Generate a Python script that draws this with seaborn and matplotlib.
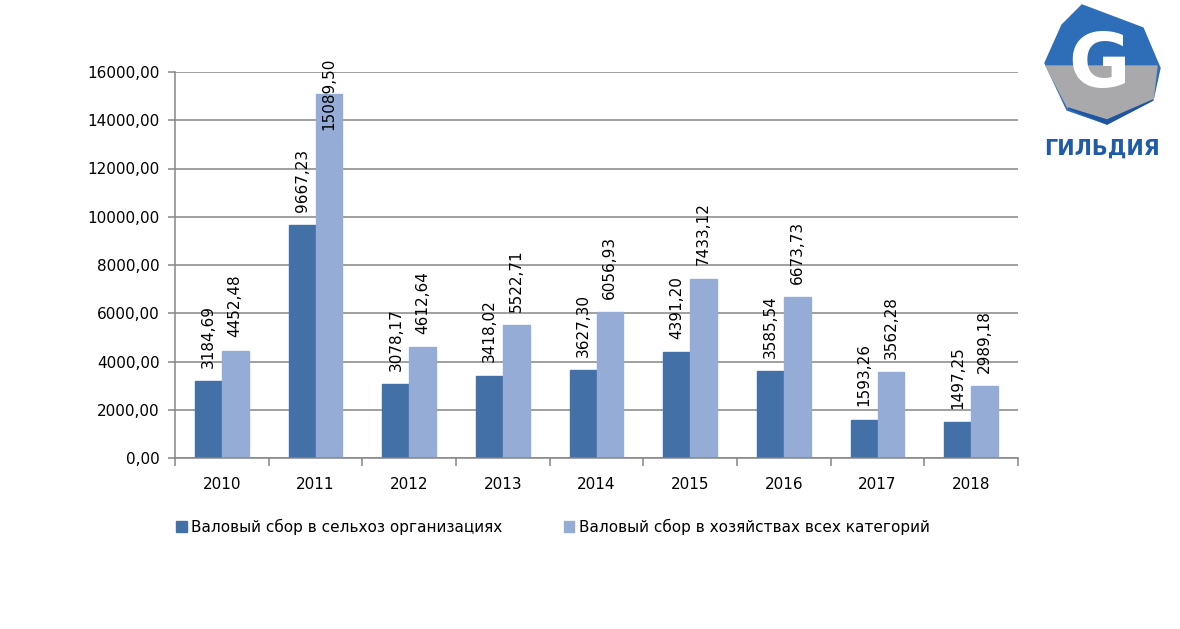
# Bar chart: gross harvest by year, two categories of farms
import pandas as pd
import matplotlib.pyplot as plt
import seaborn as sns
from matplotlib.patches import Polygon

# Data
years = ['2010', '2011', '2012', '2013', '2014', '2015', '2016', '2017', '2018']
agri_orgs = [3184.69, 9667.23, 3078.17, 3418.02, 3627.30, 4391.20, 3585.54, 1593.26, 1497.25]
all_farms = [4452.48, 15089.50, 4612.64, 5522.71, 6056.93, 7433.12, 6673.73, 3562.28, 2989.18]
series_names = ['Валовый сбор в сельхоз организациях',
                'Валовый сбор в хозяйствах всех категорий']
y_ticks = [0, 2000, 4000, 6000, 8000, 10000, 12000, 14000, 16000]

df = pd.DataFrame({
    'Год': years * 2,
    'Значение': agri_orgs + all_farms,
    'Серия': [series_names[0]] * len(years) + [series_names[1]] * len(years),
})

sns.set_style('white')
plt.rcParams['font.family'] = ['DejaVu Sans']
plt.rcParams['text.color'] = 'black'
plt.rcParams['xtick.labelcolor'] = 'black'
plt.rcParams['ytick.labelcolor'] = 'black'

grid_col = '#868686'
colors = ['#4470A8', '#95ADD6']

fig = plt.figure(figsize=(11.8, 6.29), dpi=100)
ax = fig.add_axes([175 / 1180, 1 - 458 / 629, 843 / 1180, 386 / 629])

sns.barplot(data=df, x='Год', y='Значение', hue='Серия', palette=colors,
            width=0.57, gap=0, saturation=1, ax=ax, legend=False)

for cont, col in zip(ax.containers, colors):
    for bar in cont:
        bar.set_edgecolor(col)
        v = bar.get_height()
        cx = bar.get_x() + bar.get_width() / 2
        txt = f'{v:.2f}'.replace('.', ',')
        if v > 14000:
            # label pushed down into the bar, as in the original
            ax.annotate(txt, (cx, 16000), xytext=(0, 10.5), textcoords='offset points',
                        rotation=90, ha='center', va='top', fontsize=11,
                        annotation_clip=False)
        else:
            ax.annotate(txt, (cx, v), xytext=(0, 9.5), textcoords='offset points',
                        rotation=90, ha='center', va='bottom', fontsize=11)

ax.set_ylim(0, 16000)
ax.set_xlim(-0.5, len(years) - 0.5)
ax.set_yticks(y_ticks)
ax.set_yticklabels([f'{t:.2f}'.replace('.', ',') for t in y_ticks], fontsize=11)
ax.yaxis.grid(True, color=grid_col, linewidth=1.1)
ax.set_axisbelow(True)
ax.set_xlabel('')
ax.set_ylabel('')

ax.set_xticks([i - 0.5 for i in range(len(years) + 1)], minor=True)
ax.tick_params(axis='x', which='major', length=0, pad=14, labelsize=11)
ax.tick_params(axis='x', which='minor', length=6, width=1.1, color=grid_col, direction='out')
ax.tick_params(axis='y', length=5, width=1.1, color=grid_col, direction='out', pad=6)
ax.tick_params(bottom=True, left=True, which='both')

for s in ['top', 'right']:
    ax.spines[s].set_visible(False)
for s in ['left', 'bottom']:
    ax.spines[s].set_color(grid_col)
    ax.spines[s].set_linewidth(1.1)

# Legend
handles = [plt.Rectangle((0, 0), 1, 1, color=c) for c in colors]
fig.legend(handles, series_names, loc='center', bbox_to_anchor=(553 / 1180, 1 - 527 / 629),
           ncol=2, frameon=False, fontsize=11, handlelength=0.7, handleheight=0.7,
           handletextpad=0.3, columnspacing=4.0)

# Logo (rough)
lax = fig.add_axes([0, 0, 1, 1], zorder=5)
lax.set_xlim(0, 1180)
lax.set_ylim(629, 0)
lax.axis('off')
hexagon = [(1082, 5), (1143, 28), (1160, 68), (1153, 100), (1107, 124),
           (1067, 110), (1045, 63), (1062, 25)]
lax.add_patch(Polygon(hexagon, closed=True, color='#2E6DB8'))
lax.add_patch(Polygon([(1046, 66), (1157, 66), (1153, 100), (1107, 120), (1068, 108)],
                      closed=True, color='#A9A9AB'))
lax.add_patch(Polygon([(1068, 108), (1107, 120), (1153, 100), (1107, 124)],
                      closed=True, color='#1F55A0'))
lax.text(1099, 66, 'G', fontsize=54, fontweight='bold', color='white',
         ha='center', va='center')
lax.text(1102, 149, 'ГИЛЬДИЯ', fontsize=15, fontweight='bold',
         color='#1E5BAA', ha='center', va='center')

plt.savefig('out.png', dpi=100)
